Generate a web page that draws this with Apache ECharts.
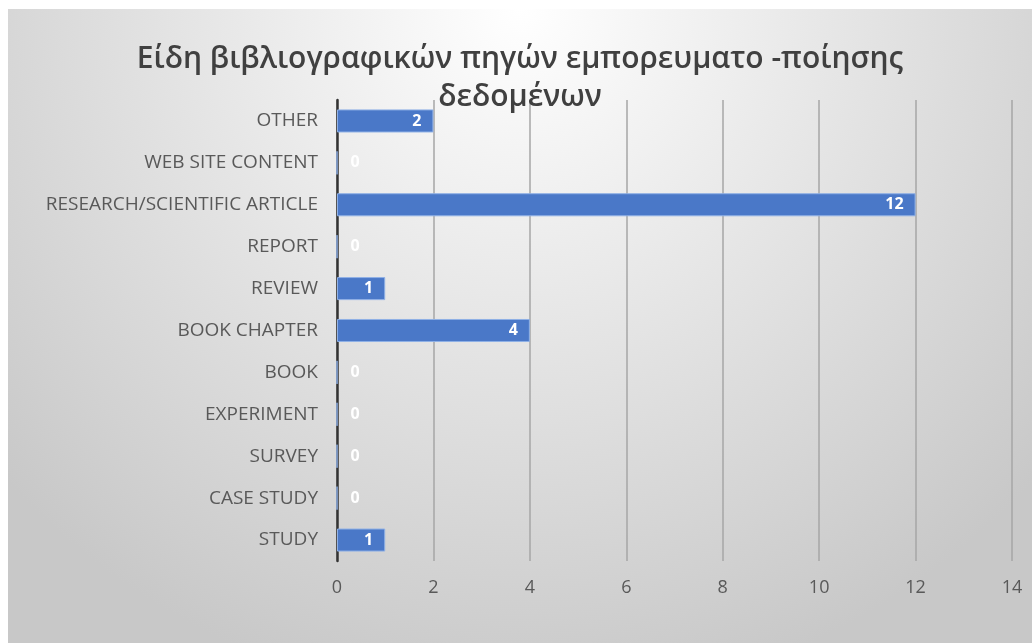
<!DOCTYPE html>
<html><head><meta charset="utf-8">
<script src="https://cdn.jsdelivr.net/npm/echarts@6/dist/echarts.min.js"></script>
<style>html,body{margin:0;padding:0;background:#fff;}#c{position:absolute;left:8px;top:9px;width:1024px;height:634px;}</style>
</head><body><div id="c"></div>
<script>
const titleText = 'Είδη βιβλιογραφικών πηγών εμπορευματο -ποίησης\nδεδομένων';
const categories = ['STUDY','CASE STUDY','SURVEY','EXPERIMENT','BOOK','BOOK CHAPTER','REVIEW','REPORT','RESEARCH/SCIENTIFIC ARTICLE','WEB SITE CONTENT','OTHER'];
const values = [1,0,0,0,0,4,1,0,12,0,2];
const xMin = 0, xMax = 14, xStep = 2;

const chart = echarts.init(document.getElementById('c'));
chart.setOption({
  backgroundColor: {type:'radial', x:0.5, y:0, r:1.1, colorStops:[{offset:0,color:'#ffffff'},{offset:1,color:'#c8c8c8'}]},
  title: {text:titleText, left:'center', top:31, padding:0, textStyle:{fontFamily:'Open Sans', fontWeight:600, fontSize:30, color:'#404040', lineHeight:38}},
  grid: {left:329, right:20, top:91, bottom:82, containLabel:false},
  xAxis: {type:'value', min:xMin, max:xMax, interval:xStep,
    axisLine:{show:false}, axisTick:{show:false},
    axisLabel:{color:'#595959', fontFamily:'Open Sans', fontSize:18, margin:18},
    splitLine:{lineStyle:{color:'#a6a6a6', width:1.5}}},
  yAxis: {type:'category', data:categories,
    axisLine:{lineStyle:{color:'#333333', width:2.5}}, axisTick:{show:false},
    axisLabel:{color:'#595959', fontFamily:'Open Sans', fontSize:19, margin:19}},
  series: [{type:'bar', barWidth:'55%',
    data: values.map(v => v === 0
      ? {value:v, label:{position:'right', distance:13}}
      : {value:v}),
    itemStyle:{color:'#4a78c8', borderColor:'#8fb0e6', borderWidth:1},
    label:{show:true, position:'insideRight', distance:12, color:'#ffffff', fontWeight:'bold', fontFamily:'Open Sans', fontSize:16}
  }]
});
</script></body></html>
